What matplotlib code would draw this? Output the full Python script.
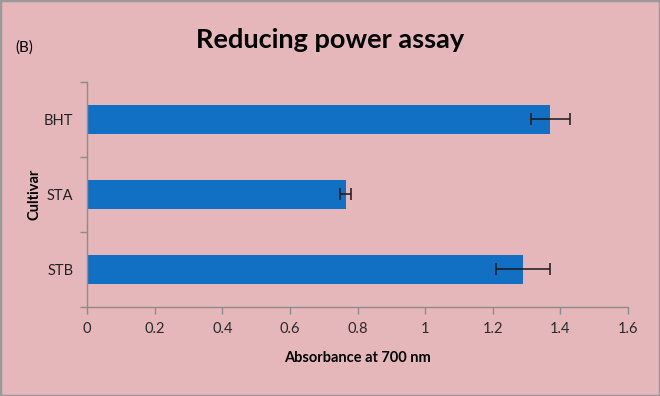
import matplotlib
matplotlib.use("Agg")
import matplotlib.pyplot as plt
from matplotlib.patches import Rectangle

categories = ["STB", "STA", "BHT"]
values = [1.29, 0.765, 1.37]
errors = [0.08, 0.017, 0.058]
xticks = [0, 0.2, 0.4, 0.6, 0.8, 1, 1.2, 1.4, 1.6]
xtick_labels = ["0", "0.2", "0.4", "0.6", "0.8", "1", "1.2", "1.4", "1.6"]

plt.rcParams['font.family'] = ['Lato', 'DejaVu Sans']

bg = '#e5b6ba'
fig = plt.figure(figsize=(6.6, 3.96), dpi=100, facecolor=bg)
fig.patches.append(Rectangle((0, 0), 1, 1, transform=fig.transFigure, fill=False,
                             edgecolor='#9a9a9a', linewidth=2.5, zorder=10))
ax = fig.add_axes([0.132, 0.225, 0.8195, 0.568])
ax.set_facecolor(bg)

pos = list(range(len(categories)))
ax.barh(pos, values, height=0.39, color='#1170c4', zorder=2)
ax.errorbar(values, pos, xerr=errors, fmt='none', ecolor='#1a1a1a',
            elinewidth=1.1, capsize=4, capthick=1.1, zorder=3)

ax.set_xlim(0, 1.6)
ax.set_ylim(-0.5, 2.5)
ax.set_xticks(xticks)
ax.set_xticklabels(xtick_labels, fontsize=10.5, color='#2a2a2a')
ax.set_yticks([-0.5, 0.5, 1.5, 2.5])
ax.set_yticklabels([])
ax.set_yticks(pos, minor=True)
ax.set_yticklabels(categories, minor=True, fontsize=10.5, color='#222222')
ax.tick_params(axis='y', which='minor', length=0, pad=10)
ax.tick_params(axis='y', which='major', length=5, color='#8c8c8c', width=1)
ax.tick_params(axis='x', length=5, color='#8c8c8c', width=1, pad=6)

for s in ['top', 'right']:
    ax.spines[s].set_visible(False)
for s in ['left', 'bottom']:
    ax.spines[s].set_color('#8c8c8c')
    ax.spines[s].set_linewidth(1)

ax.set_xlabel("Absorbance at 700 nm", fontsize=10.5, fontweight='bold')
ax.xaxis.set_label_coords(0.5, -0.198)
ax.set_ylabel("Cultivar", fontsize=10.5, fontweight='bold')
ax.yaxis.set_label_coords(-0.085, 0.5)

fig.text(0.5, 0.9, "Reducing power assay", ha='center', va='center',
         fontsize=19.5, fontweight='bold', color='black')
fig.text(0.024, 0.88, "(B)", ha='left', va='center', fontsize=11, color='black')

fig.savefig("out.png", dpi=100, facecolor=bg)
